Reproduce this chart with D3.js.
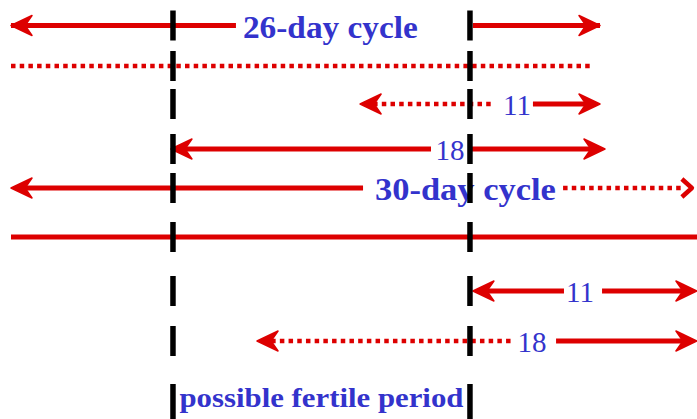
<!DOCTYPE html>
<html><head><meta charset="utf-8">
<script src="https://cdn.jsdelivr.net/npm/d3@7"></script>
<style>html,body{margin:0;padding:0;background:#fff;overflow:hidden}</style>
</head><body>
<script>
// rows of the diagram, top to bottom
const rows = ["c26", "c26dot", "c26m11", "c26m18", "c30", "c30line", "c30m11", "c30m18", "fertile"];

// day positions of the fertile window boundaries
const fertileBounds = [7.15, 20.26];

// line pieces in day units
const segments = [
  {row: "c26",     from: 0,     to: 9.93,  line: "solid"},
  {row: "c26",     from: 20.39, to: 26,    line: "solid"},
  {row: "c26dot",  from: 0,     to: 25.69, line: "dotted"},
  {row: "c26m11",  from: 15.6,  to: 21.36, line: "dotted"},
  {row: "c26m11",  from: 23.04, to: 25.8,  line: "solid"},
  {row: "c26m18",  from: 7.3,   to: 18.54, line: "solid"},
  {row: "c26m18",  from: 20.26, to: 26.0,  line: "solid"},
  {row: "c30",     from: 0.2,   to: 15.54, line: "solid"},
  {row: "c30",     from: 24.37, to: 29.7,  line: "dotted"},
  {row: "c30line", from: 0,     to: 30.3,  line: "solid"},
  {row: "c30m11",  from: 20.6,  to: 24.41, line: "solid"},
  {row: "c30m11",  from: 26.09, to: 30.0,  line: "solid"},
  {row: "c30m18",  from: 11.1,  to: 22.16, line: "dotted"},
  {row: "c30m18",  from: 24.06, to: 30.0,  line: "solid"}
];

// arrow heads: day of the tip, direction (-1 left, 1 right)
const heads = [
  {row: "c26",    at: 0,     dir: -1, kind: "fill"},
  {row: "c26",    at: 26,    dir: 1,  kind: "fill"},
  {row: "c26m11", at: 15.41, dir: -1, kind: "fill"},
  {row: "c26m11", at: 26,    dir: 1,  kind: "fill"},
  {row: "c26m18", at: 7.06,  dir: -1, kind: "fill"},
  {row: "c26m18", at: 26.22, dir: 1,  kind: "fill"},
  {row: "c30",    at: 0,     dir: -1, kind: "fill"},
  {row: "c30",    at: 30.1,  dir: 1,  kind: "open"},
  {row: "c30m11", at: 20.39, dir: -1, kind: "fill"},
  {row: "c30m11", at: 30.28, dir: 1,  kind: "fill"},
  {row: "c30m18", at: 10.86, dir: -1, kind: "fill"},
  {row: "c30m18", at: 30.28, dir: 1,  kind: "fill"}
];

// text labels
const labels = [
  {row: "c26",    at: 14.10, text: "26-day cycle", kind: "title"},
  {row: "c26m11", at: 22.34, text: "11", kind: "num"},
  {row: "c26m18", at: 19.38, text: "18", kind: "num"},
  {row: "c30",    at: 20.06, text: "30-day cycle", kind: "title"},
  {row: "c30m11", at: 25.12, text: "11", kind: "num"},
  {row: "c30m18", at: 23.00, text: "18", kind: "num"}
];
const fertileLabel = "possible fertile period";

const W = 697, H = 419;
const RED = "#dd0000", BLUE = "#3333cc";
const x = d3.scaleLinear().domain([0, 26]).range([11, 600]);
const y = d3.scaleOrdinal().domain(rows).range([25.5, 66, 104, 149, 188, 237, 291, 341, 401]);

const svg = d3.select("body").append("svg").attr("width", W).attr("height", H);

// red lines
svg.append("g").selectAll("line").data(segments).enter().append("line")
  .attr("x1", d => x(d.from)).attr("x2", d => x(d.to))
  .attr("y1", d => y(d.row)).attr("y2", d => y(d.row))
  .attr("stroke", RED)
  .attr("stroke-width", d => d.line === "dotted" ? 4.5 : 5)
  .attr("stroke-dasharray", d => d.line === "dotted" ? "4.5,4.2" : null);

// arrow heads
svg.append("g").selectAll("path").data(heads).enter().append("path")
  .attr("transform", d => `translate(${x(d.at)},${y(d.row)}) scale(${d.dir},1)`)
  .attr("d", d => d.kind === "fill" ? "M0,0 L-21,-10 L-14,0 L-21,10 Z" : "M-11,-9 L-1,0 L-11,9")
  .attr("fill", d => d.kind === "fill" ? RED : "none")
  .attr("stroke", RED)
  .attr("stroke-width", d => d.kind === "fill" ? 1.5 : 4.5)
  .attr("stroke-linejoin", "round");

// labels
const lg = svg.append("g").attr("font-family", "'Liberation Serif', 'DejaVu Serif', serif").attr("fill", BLUE);
lg.selectAll("text").data(labels).enter().append("text")
  .attr("x", d => x(d.at))
  .attr("y", d => y(d.row) + (d.kind === "title" ? 12 : 11))
  .attr("text-anchor", "middle")
  .attr("font-size", d => d.kind === "title" ? 31 : 29)
  .attr("font-weight", d => d.kind === "title" ? "bold" : "normal")
  .attr("textLength", d => d.kind === "title" ? (d.text.startsWith("26") ? 175 : 181) : null)
  .attr("lengthAdjust", "spacingAndGlyphs")
  .text(d => d.text);

lg.append("text")
  .attr("x", (x(fertileBounds[0]) + x(fertileBounds[1])) / 2)
  .attr("y", y("fertile") + 6)
  .attr("text-anchor", "middle")
  .attr("font-size", 28)
  .attr("font-weight", "bold")
  .attr("textLength", 284)
  .attr("lengthAdjust", "spacingAndGlyphs")
  .text(fertileLabel);

// black dashed vertical lines (one dash per row)
const vg = svg.append("g");
fertileBounds.forEach(b => {
  vg.selectAll(null).data(rows).enter().append("line")
    .attr("x1", x(b)).attr("x2", x(b))
    .attr("y1", r => y(r) - (r === "fertile" ? 17 : 15))
    .attr("y2", r => r === "fertile" ? H : y(r) + 15)
    .attr("stroke", "#000").attr("stroke-width", 5.5);
});
</script>
</body></html>
